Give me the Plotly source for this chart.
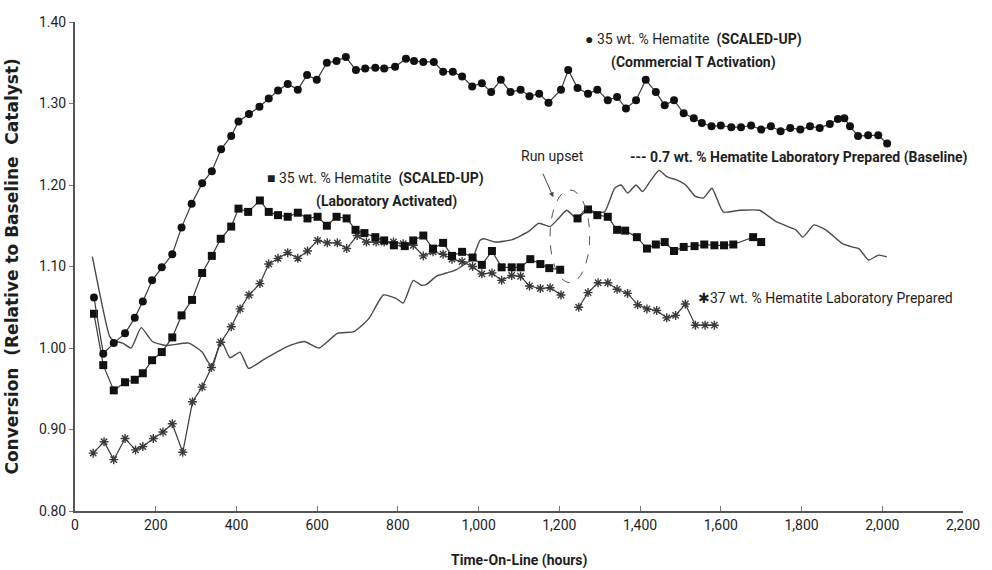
import plotly.graph_objects as go

# ---- data (hours, conversion relative to baseline) ----
commercial_x = [47, 70, 96, 124, 148, 168, 191, 215, 241, 264, 289, 315, 339, 362, 387, 405, 431, 457, 480, 503,
                527, 552, 575, 599, 624, 648, 671, 696, 719, 744, 766, 793, 820, 840, 863, 889, 912, 936, 959, 984,
                1008, 1031, 1055, 1079, 1104, 1126, 1150, 1173, 1204, 1222, 1245, 1271, 1294, 1320, 1343, 1365, 1390,
                1414, 1439, 1461, 1484, 1508, 1533, 1553, 1577, 1600, 1626, 1650, 1675, 1700, 1724, 1748, 1772, 1797,
                1821, 1845, 1870, 1890, 1906, 1920, 1940, 1965, 1990, 2012]
commercial_y = [1.062, 0.993, 1.006, 1.018, 1.037, 1.057, 1.083, 1.099, 1.115, 1.148, 1.177, 1.202, 1.217, 1.244,
                1.260, 1.278, 1.287, 1.296, 1.306, 1.316, 1.324, 1.317, 1.335, 1.329, 1.350, 1.352, 1.357, 1.341,
                1.343, 1.344, 1.343, 1.345, 1.355, 1.352, 1.351, 1.351, 1.339, 1.339, 1.333, 1.321, 1.325, 1.314,
                1.329, 1.314, 1.317, 1.309, 1.312, 1.301, 1.317, 1.341, 1.319, 1.312, 1.317, 1.304, 1.308, 1.294,
                1.304, 1.329, 1.314, 1.298, 1.304, 1.288, 1.282, 1.276, 1.272, 1.273, 1.271, 1.271, 1.273, 1.268,
                1.272, 1.266, 1.270, 1.268, 1.272, 1.270, 1.275, 1.281, 1.282, 1.272, 1.260, 1.261, 1.261, 1.251]

lab_act_x = [47, 70, 96, 124, 148, 168, 191, 215, 241, 264, 290, 315, 339, 361, 387, 405, 429, 458, 480, 503,
             527, 552, 576, 601, 624, 648, 673, 695, 717, 744, 766, 790, 817, 838, 863, 887, 912, 934, 959, 985,
             1008, 1033, 1057, 1082, 1104, 1128, 1153, 1175, 1202, None, 1245, 1271, 1294, 1320, 1343, 1363, 1392,
             1417, 1439, 1461, 1484, 1508, 1535, 1559, 1584, 1608, 1631, 1680, 1700]
lab_act_y = [1.042, 0.979, 0.948, 0.958, 0.961, 0.969, 0.985, 0.995, 1.013, 1.040, 1.059, 1.092, 1.113, 1.134,
             1.149, 1.171, 1.167, 1.181, 1.167, 1.163, 1.161, 1.166, 1.159, 1.161, 1.150, 1.161, 1.159, 1.145,
             1.141, 1.136, 1.132, 1.126, 1.125, 1.132, 1.138, 1.122, 1.129, 1.113, 1.118, 1.111, 1.102, 1.119,
             1.099, 1.099, 1.099, 1.109, 1.103, 1.098, 1.096, None, 1.159, 1.170, 1.163, 1.161, 1.145, 1.144,
             1.136, 1.122, 1.127, 1.130, 1.119, 1.124, 1.125, 1.127, 1.126, 1.126, 1.127, 1.136, 1.130]

h37_x = [45, 72, 96, 124, 150, 168, 194, 218, 241, 267, 291, 315, 338, 361, 387, 409, 431, 458, 480, 503,
         527, 552, 576, 601, 625, 650, 673, 699, 722, 746, 766, 789, 813, 838, 863, 887, 912, 934, 959, 985,
         1008, 1033, 1057, 1082, 1104, 1126, 1153, 1177, 1204, None, 1248, 1271, 1296, 1320, 1343, 1369, 1394,
         1417, 1441, 1466, 1488, 1512, 1537, 1561, 1584]
h37_y = [0.871, 0.885, 0.863, 0.889, 0.875, 0.879, 0.889, 0.897, 0.907, 0.872, 0.934, 0.952, 0.976, 1.007,
         1.026, 1.048, 1.065, 1.079, 1.103, 1.110, 1.117, 1.110, 1.119, 1.132, 1.129, 1.129, 1.122, 1.138,
         1.130, 1.130, 1.130, 1.130, 1.128, 1.126, 1.113, 1.118, 1.115, 1.109, 1.106, 1.100, 1.091, 1.092,
         1.083, 1.089, 1.088, 1.076, 1.073, 1.074, 1.065, None, 1.050, 1.068, 1.080, 1.080, 1.072, 1.067,
         1.053, 1.048, 1.046, 1.037, 1.040, 1.054, 1.028, 1.028, 1.028]

base_x = [43, 86, 96, 118, 139, 164, 192, 225, 282, 315, 327, 340, 362, 384, 409, 430, 468, 527, 568, 605,
          650, 691, 728, 764, 795, 813, 838, 858, 871, 895, 920, 944, 969, 985, 1003, 1013, 1042, 1083, 1124,
          1149, 1177, 1198, 1218, 1243, 1267, 1288, 1312, 1337, 1353, 1369, 1390, 1406, 1427, 1447, 1467, 1492,
          1513, 1537, 1557, 1578, 1606, 1647, 1696, 1737, 1786, 1803, 1831, 1860, 1901, 1925, 1942, 1966, 1991,
          2011]
base_y = [1.112, 1.014, 1.009, 1.006, 1.000, 1.025, 1.008, 1.003, 1.006, 0.995, 0.985, 0.977, 1.009, 0.988,
          0.995, 0.975, 0.986, 1.002, 1.008, 1.000, 1.018, 1.020, 1.036, 1.065, 1.061, 1.055, 1.083, 1.077,
          1.078, 1.088, 1.092, 1.096, 1.104, 1.110, 1.132, 1.134, 1.130, 1.133, 1.143, 1.153, 1.149, 1.159,
          1.169, 1.159, 1.171, 1.167, 1.167, 1.196, 1.200, 1.190, 1.200, 1.192, 1.206, 1.218, 1.210, 1.206,
          1.200, 1.186, 1.184, 1.196, 1.167, 1.169, 1.169, 1.155, 1.145, 1.136, 1.151, 1.145, 1.128, 1.124,
          1.122, 1.108, 1.114, 1.112]

x_ticks = [0, 200, 400, 600, 800, 1000, 1200, 1400, 1600, 1800, 2000, 2200]
y_ticks = [0.80, 0.90, 1.00, 1.10, 1.20, 1.30, 1.40]

FONT = "Liberation Sans Narrow, Arial Narrow, Roboto, sans-serif"
INK = "#1e1e1e"

fig = go.Figure()

fig.add_trace(go.Scatter(
    x=base_x, y=base_y, mode="lines", line=dict(color="#4a4a4a", width=1.4, shape="spline", smoothing=0.5),
    name="0.7 wt. % Hematite Laboratory Prepared (Baseline)"))
fig.add_trace(go.Scatter(
    x=h37_x, y=h37_y, mode="lines+markers", line=dict(color="#3a3a3a", width=1.2),
    marker=dict(symbol="asterisk-open", size=7.5, line=dict(color="#222222", width=1.4)),
    name="37 wt. % Hematite Laboratory Prepared"))
fig.add_trace(go.Scatter(
    x=lab_act_x, y=lab_act_y, mode="lines+markers", line=dict(color="#3a3a3a", width=1.2),
    marker=dict(symbol="square", size=8, color="#111111"),
    name="35 wt. % Hematite (SCALED-UP) (Laboratory Activated)"))
fig.add_trace(go.Scatter(
    x=commercial_x, y=commercial_y, mode="lines+markers", line=dict(color="#3a3a3a", width=1.2),
    marker=dict(symbol="circle", size=8, color="#111111"),
    name="35 wt. % Hematite (SCALED-UP) (Commercial T Activation)"))

# run upset ellipse
fig.add_shape(type="circle", xref="x", yref="y", x0=1177, x1=1275, y0=1.080, y1=1.194,
              line=dict(color="#555555", width=1, dash="dash"))

def note(x, y, text, size=14):
    fig.add_annotation(x=x, y=y, xref="x", yref="y", text=text, showarrow=False,
                       xanchor="left", yanchor="middle", font=dict(family=FONT, size=size, color=INK))

note(1258, 1.378, "● 35 wt. % Hematite  <b>(SCALED-UP)</b>")
note(1322, 1.350, "<b>(Commercial T Activation)</b>")
note(470, 1.208, "■ 35 wt. % Hematite  <b>(SCALED-UP)</b>")
note(591, 1.180, "<b>(Laboratory Activated)</b>")
note(1101, 1.235, "Run upset")
note(1371, 1.234, "<b>--- 0.7 wt. % Hematite Laboratory Prepared (Baseline)</b>")
note(1538, 1.061, "✱37 wt. % Hematite Laboratory Prepared")

fig.add_annotation(x=1185, y=1.185, xref="x", yref="y", ax=-11, ay=-25, text="", showarrow=True,
                   arrowhead=2, arrowsize=1, arrowwidth=1, arrowcolor="#444444")

# axis titles
fig.add_annotation(x=-0.072, y=0.5, xref="paper", yref="paper",
                   text="<b>Conversion  (Relative to Baseline  Catalyst)</b>",
                   textangle=-90, showarrow=False, xanchor="center", yanchor="middle",
                   font=dict(family="DejaVu Sans, sans-serif", size=17, color=INK))
fig.add_annotation(x=0.5, y=-0.101, xref="paper", yref="paper", text="<b>Time-On-Line (hours)</b>",
                   showarrow=False, yanchor="middle", font=dict(family=FONT, size=14, color=INK))

fig.update_layout(
    width=992, height=570, margin=dict(l=75, r=20, t=22, b=59),
    paper_bgcolor="white", plot_bgcolor="white", showlegend=False,
    font=dict(family=FONT, size=14, color=INK),
)
fig.update_xaxes(range=[0, 2200], tickvals=x_ticks, tickformat=",", showgrid=False, zeroline=False,
                 showline=True, linecolor="#555555", linewidth=2, ticks="inside", ticklen=5,
                 tickcolor="#777777", tickfont=dict(family=FONT, size=14, color=INK))
fig.update_yaxes(range=[0.80, 1.40], tickvals=y_ticks, tickformat=".2f", showgrid=False, zeroline=False,
                 showline=True, linecolor="#555555", linewidth=2, ticks="outside", ticklen=4,
                 tickcolor="#777777", tickfont=dict(family=FONT, size=14, color=INK))

fig.write_html("out.html")
